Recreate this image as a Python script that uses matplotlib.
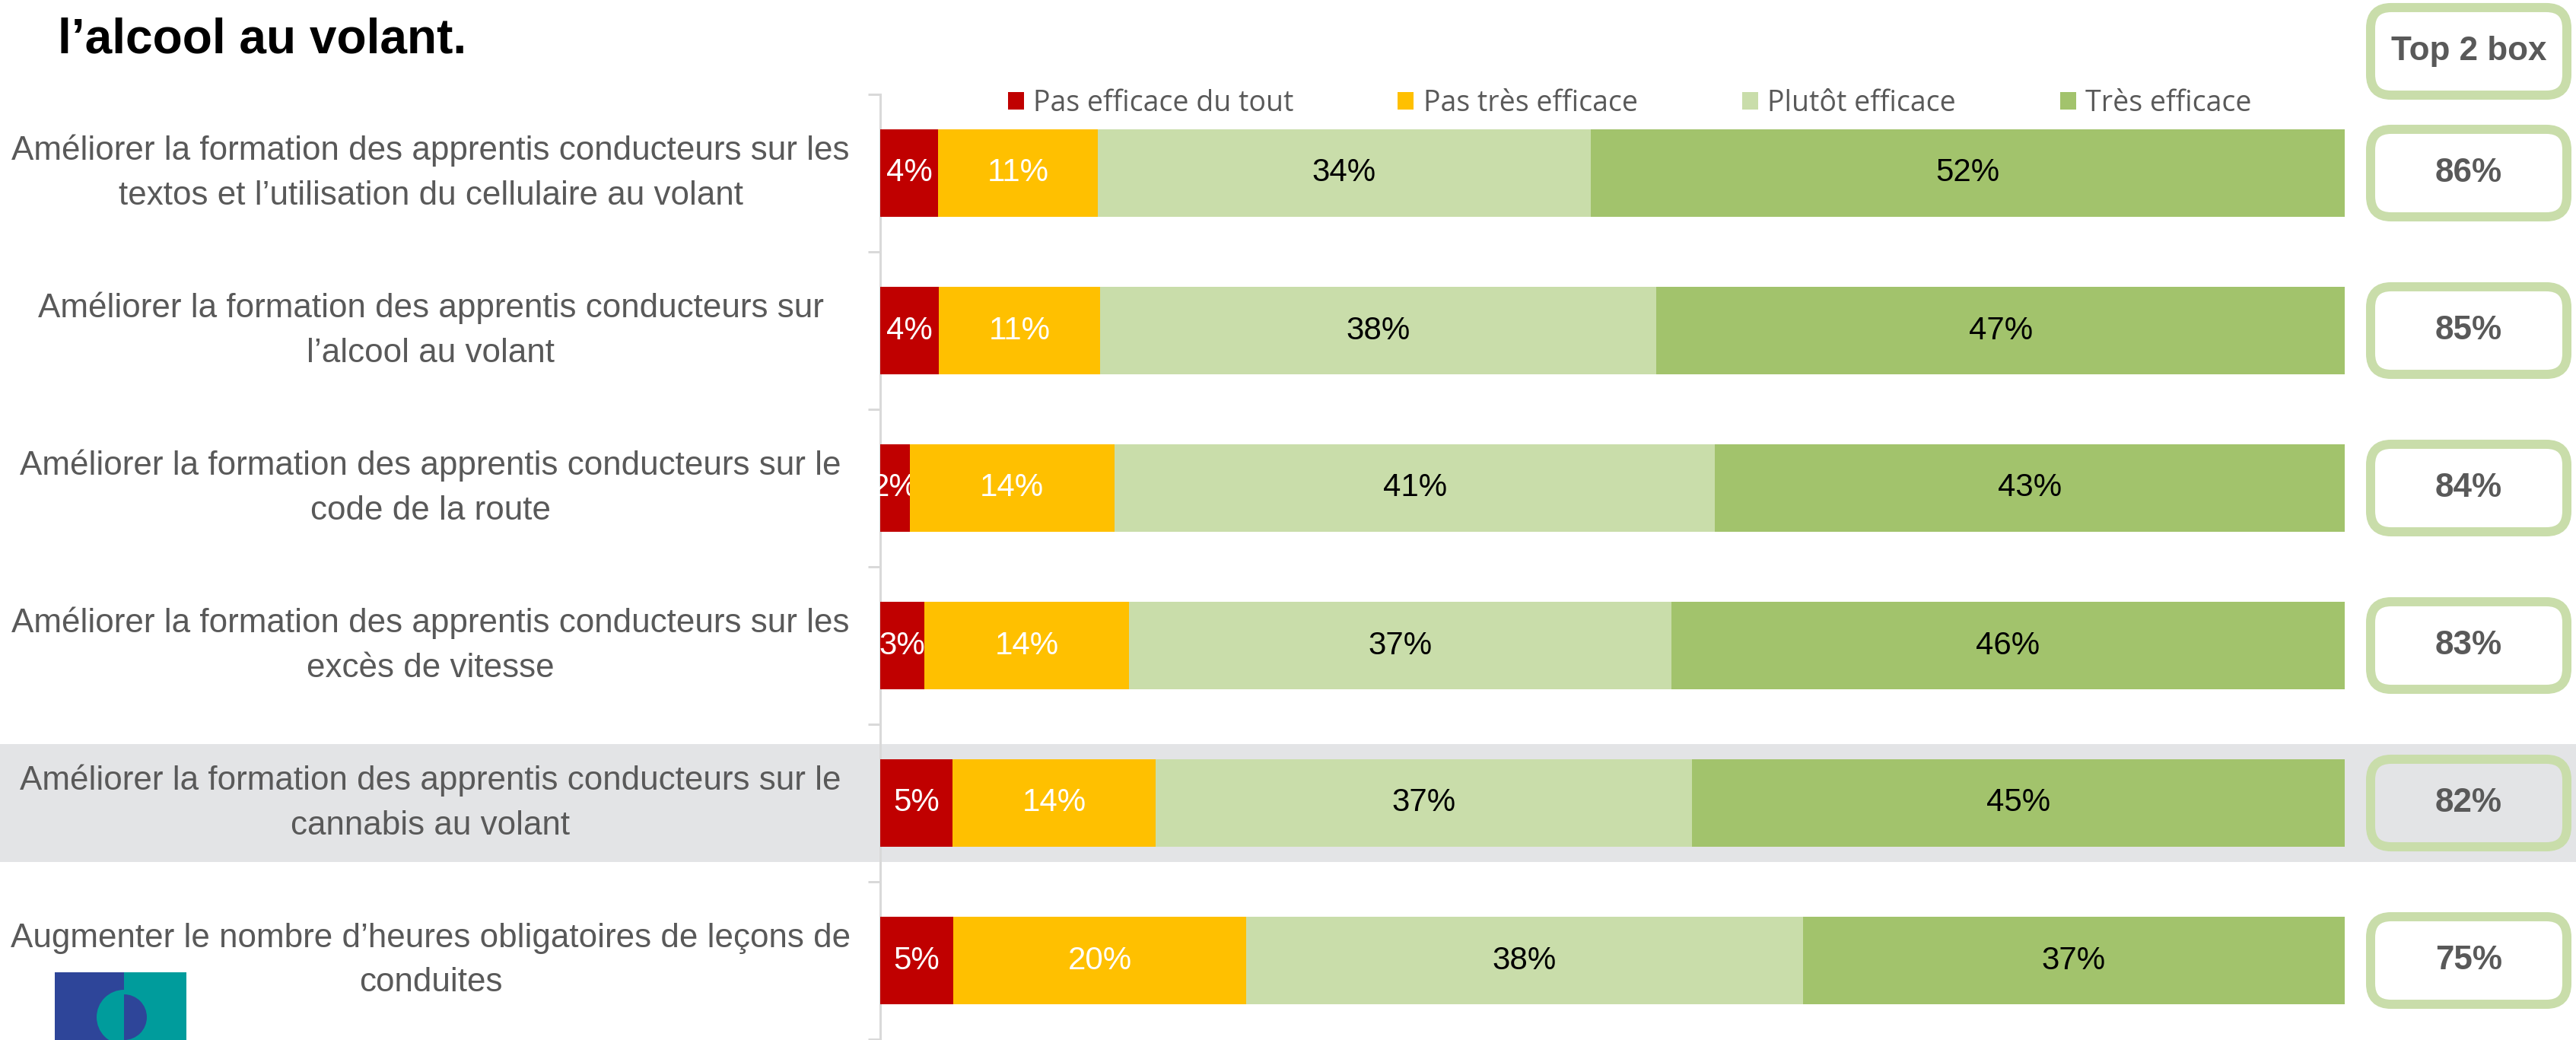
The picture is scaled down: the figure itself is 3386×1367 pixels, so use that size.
import numpy as np
import matplotlib
matplotlib.use("Agg")
import matplotlib.pyplot as plt
import matplotlib.transforms as mtrans
import matplotlib.font_manager as fm
from matplotlib.patches import Patch, FancyBboxPatch, Rectangle, Wedge

# ---------------- data ----------------
categories = [
    "Améliorer la formation des apprentis conducteurs sur les\ntextos et l’utilisation du cellulaire au volant",
    "Améliorer la formation des apprentis conducteurs sur\nl’alcool au volant",
    "Améliorer la formation des apprentis conducteurs sur le\ncode de la route",
    "Améliorer la formation des apprentis conducteurs sur les\nexcès de vitesse",
    "Améliorer la formation des apprentis conducteurs sur le\ncannabis au volant",
    "Augmenter le nombre d’heures obligatoires de leçons de\nconduites",
]
series_names = ["Pas efficace du tout", "Pas très efficace", "Plutôt efficace", "Très efficace"]
pas_efficace_du_tout = [4, 4, 2, 3, 5, 5]
pas_tres_efficace = [11, 11, 14, 14, 14, 20]
plutot_efficace = [34, 38, 41, 37, 37, 38]
tres_efficace = [52, 47, 43, 46, 45, 37]
top2_box = [86, 85, 84, 83, 82, 75]
highlight_row = 4
title_text = "l’alcool au volant."
top2_header = "Top 2 box"

colors = ["#C00000", "#FFC000", "#C9DDAA", "#A2C36C"]
label_colors = ["white", "white", "black", "black"]
GREY_TXT = "#595959"


def pick(cands):
    for c in cands:
        try:
            fm.findfont(fm.FontProperties(family=c), fallback_to_default=False)
            return c
        except Exception:
            pass
    return "DejaVu Sans"


NARROW = pick(["Liberation Sans Narrow", "Arial Narrow", "Liberation Sans"])
LEGF = pick(["Open Sans", "Liberation Sans"])
is_narrow = NARROW != "Liberation Sans"
# font em sizes in pixels (regular-width fallback is scaled so text widths match)
EM_CAT = 53 if is_narrow else 44
EM_PCT = 50 if is_narrow else 42
EM_TOP = 52 if is_narrow else 44
EM_TITLE = 75 if is_narrow else 64

W, H, DPI = 3386, 1367, 100
fig = plt.figure(figsize=(W / DPI, H / DPI), dpi=DPI)
fig.patch.set_facecolor("white")


def fx(px):
    return px / W


def fy(py):
    return 1 - py / H


def pt(px):
    return px * 72 / DPI


# main axes
ax = fig.add_axes([fx(1157), fy(1366), fx(3082) - fx(1157), fy(124) - fy(1366)])
ax.set_facecolor("none")

vals = np.array([pas_efficace_du_tout, pas_tres_efficace, plutot_efficace, tres_efficace], float)
shares = vals / vals.sum(axis=0)
y = np.arange(len(categories))
left = np.zeros(len(categories))
for i in range(4):
    bars = ax.barh(y, shares[i], left=left, height=0.556, color=colors[i],
                   label=series_names[i], zorder=3)
    ax.bar_label(bars, labels=[f"{int(v)}%" for v in vals[i]], label_type="center",
                 color=label_colors[i], fontsize=pt(EM_PCT), family=NARROW)
    left += shares[i]

ax.set_xlim(0, 1)
ax.set_ylim(len(categories) - 0.5, -0.5)
for s in ["top", "right", "bottom"]:
    ax.spines[s].set_visible(False)
ax.spines["left"].set_color("#D9D9D9")
ax.spines["left"].set_linewidth(pt(3))
ax.set_xticks([])
ax.set_yticks(np.arange(-0.5, len(categories), 1))
ax.set_yticklabels([])
ax.tick_params(axis="y", length=pt(16), width=pt(3), color="#D9D9D9", direction="out")

blend = mtrans.blended_transform_factory(fig.transFigure, ax.transData)

# highlight band
ax.add_patch(Rectangle((0, highlight_row - 0.375), 1, 0.75, transform=blend,
                       facecolor="#E3E4E6", edgecolor="none", zorder=0, clip_on=False))

# category labels
for i, c in enumerate(categories):
    ax.text(fx(566), i, c, transform=blend, ha="center", va="center",
            multialignment="center", color=GREY_TXT, fontsize=pt(EM_CAT),
            family=NARROW, linespacing=1.55, zorder=4, clip_on=False)

# top 2 box column
ax2 = fig.add_axes([fx(3110), fy(1366), fx(3386) - fx(3110), fy(124) - fy(1366)], sharey=ax)
ax2.set_xlim(0, 276)
ax2.axis("off")
px_per_row = (1366 - 124) / len(categories)
row_positions = list(y) + [-0.5 - (124 - 67.5) / px_per_row]
row_texts = [f"{v}%" for v in top2_box] + [top2_header]
for yy, tt in zip(row_positions, row_texts):
    ax2.add_patch(FancyBboxPatch((6, yy - 0.278), 258, 0.556,
                                 boxstyle="round,pad=0,rounding_size=27",
                                 mutation_aspect=1 / px_per_row,
                                 facecolor="none", edgecolor="#C9DDAA",
                                 linewidth=pt(12), clip_on=False))
    ax2.text(135, yy, tt, ha="center", va="center", color=GREY_TXT,
             fontsize=pt(EM_TOP), weight="bold", family=NARROW, clip_on=False)
ax2.set_ylim(len(categories) - 0.5, -0.5)

# legend
handles = [Patch(facecolor=c, edgecolor="none") for c in colors]
fig.legend(handles, series_names, loc="center", bbox_to_anchor=(fx(2142), fy(136)),
           ncol=4, frameon=False, prop={"family": LEGF, "size": pt(37.5)},
           handlelength=0.56, handleheight=0.56, handletextpad=0.33,
           columnspacing=3.65, labelcolor=GREY_TXT, borderpad=0, borderaxespad=0)

# title (visible line)
fig.text(fx(76), fy(69), title_text, fontsize=pt(EM_TITLE), weight="bold",
         family=NARROW, va="baseline", ha="left", color="black")

# logo approximation
fig.add_artist(Rectangle((fx(72), 0), fx(163) - fx(72), fy(1278), transform=fig.transFigure,
                         facecolor="#2E4599", edgecolor="none"))
fig.add_artist(Rectangle((fx(163), 0), fx(245) - fx(163), fy(1278), transform=fig.transFigure,
                         facecolor="#009C9C", edgecolor="none"))
idt = mtrans.IdentityTransform()
fig.add_artist(Wedge((163, 30), 36, 90, 270, transform=idt, facecolor="#009C9C", edgecolor="none"))
fig.add_artist(Wedge((163, 30), 30, -90, 90, transform=idt, facecolor="#2E4599", edgecolor="none"))

fig.savefig("out.png", dpi=DPI, facecolor="white")
